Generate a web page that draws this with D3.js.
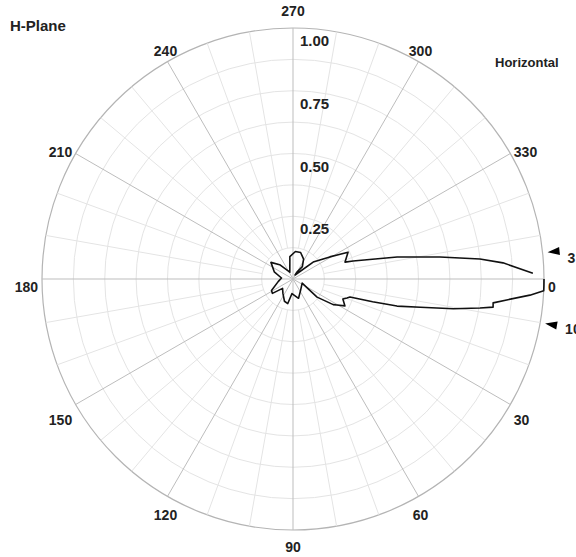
<html>
<head>
<meta charset="utf-8">
<script src="https://d3js.org/d3.v7.min.js"></script>
<style>
body { margin: 0; background: #fff; }
text { font-family: "Liberation Sans", Arial, sans-serif; font-weight: bold; fill: #222; }
</style>
</head>
<body>
<script>
// pattern, angle in degrees (clockwise from east), normalized magnitude
var angles = [0,1.5,2.7,3.9,5.5,6.8,8,8.8,10.5,12.5,14.6,16,17.5,19.4,21.8,27.4,30.6,32.5,37,24,57,74,94,102,111,125,138,145,152,170,185,201,217,227,245,262,275,286,298,307,300,297,320,329,334,342,343.3,348.1,351.5,353.9,355.6,358.6];
var gain   = [1.0,1.0,1.0,0.946,0.86,0.803,0.805,0.754,0.65,0.52,0.428,0.33,0.238,0.228,0.214,0.233,0.203,0.19,0.12,0.04,0.055,0.08,0.058,0.1,0.095,0.07,0.056,0.1,0.097,0.06,0.046,0.08,0.11,0.078,0.03,0.09,0.11,0.11,0.09,0.062,0.032,0.018,0.105,0.171,0.244,0.218,0.25,0.424,0.592,0.749,0.839,0.956];
var angleTicks = [0,30,60,90,120,150,180,210,240,270,300,330];
var radialTicks = [0.25,0.5,0.75,1.0];
var markers = [{angle:-6, label:'3'},{angle:10, label:'10'}];

var W = 576, H = 557;
var cx = 293, cy = 279, R = 251;

var svg = d3.select('body').append('svg').attr('width', W).attr('height', H);
var g = svg.append('g').attr('transform', 'translate(' + cx + ',' + cy + ')');

var r = d3.scaleLinear().domain([0, 1]).range([0, R]);
function rad(a) { return a * Math.PI / 180; }

// grid circles every 0.125
d3.range(1, 9).forEach(function(i) {
  g.append('circle').attr('r', r(i / 8)).attr('fill', 'none')
    .attr('stroke', i == 8 ? '#b4b4b4' : '#e4e4e4').attr('stroke-width', i == 8 ? 1.2 : 1);
});

// spokes
d3.range(0, 360, 10).forEach(function(a) {
  var major = a % 30 == 0;
  g.append('line')
    .attr('x1', major ? 0 : r(0.125) * Math.cos(rad(a))).attr('y1', major ? 0 : r(0.125) * Math.sin(rad(a)))
    .attr('x2', R * Math.cos(rad(a))).attr('y2', R * Math.sin(rad(a)))
    .attr('stroke', major ? '#bdbdbd' : '#e4e4e4').attr('stroke-width', 1);
});

// angle labels
g.selectAll('.angLabel').data(angleTicks).enter().append('text')
  .attr('class', 'angLabel')
  .attr('x', function(d) { return 255 * Math.cos(rad(d)); })
  .attr('y', function(d) { return 268 * Math.sin(rad(d)) + 5 + 8 * Math.abs(Math.cos(rad(d))); })
  .attr('text-anchor', function(d) {
    var c = Math.cos(rad(d));
    return c > 0.6 ? 'start' : (c < -0.6 ? 'end' : 'middle');
  })
  .style('font-size', '14px')
  .text(function(d) { return d; });

// radial labels
g.selectAll('.rLabel').data(radialTicks).enter().append('text')
  .attr('x', 7).attr('y', function(d) { return -r(d) + 18; })
  .style('font-size', '15px')
  .text(function(d) { return d.toFixed(2); });

// pattern
var pts = angles.map(function(a, i) { return [rad(a) + Math.PI / 2, r(gain[i])]; });
var line = d3.lineRadial().angle(function(d) { return d[0]; }).radius(function(d) { return d[1]; });
g.append('path').attr('d', line(pts)).attr('fill', 'none').attr('stroke', '#111')
  .attr('stroke-width', 1.6).attr('stroke-linejoin', 'round');

// beamwidth markers
markers.forEach(function(m) {
  var a = rad(m.angle);
  var mx = 256 * Math.cos(a), my = 256 * Math.sin(a);
  var mg = g.append('g').attr('transform', 'translate(' + mx + ',' + my + ') rotate(' + m.angle + ')');
  mg.append('path').attr('d', 'M0,0 L12,-4 L12,4 Z').attr('fill', '#000');
  g.append('text').attr('x', mx + 20).attr('y', my + 11).style('font-size', '14px').text(m.label);
});

svg.append('text').attr('x', 10).attr('y', 31).style('font-size', '15px').text('H-Plane');
svg.append('text').attr('x', 495).attr('y', 67).style('font-size', '13px').text('Horizontal');
</script>
</body>
</html>
